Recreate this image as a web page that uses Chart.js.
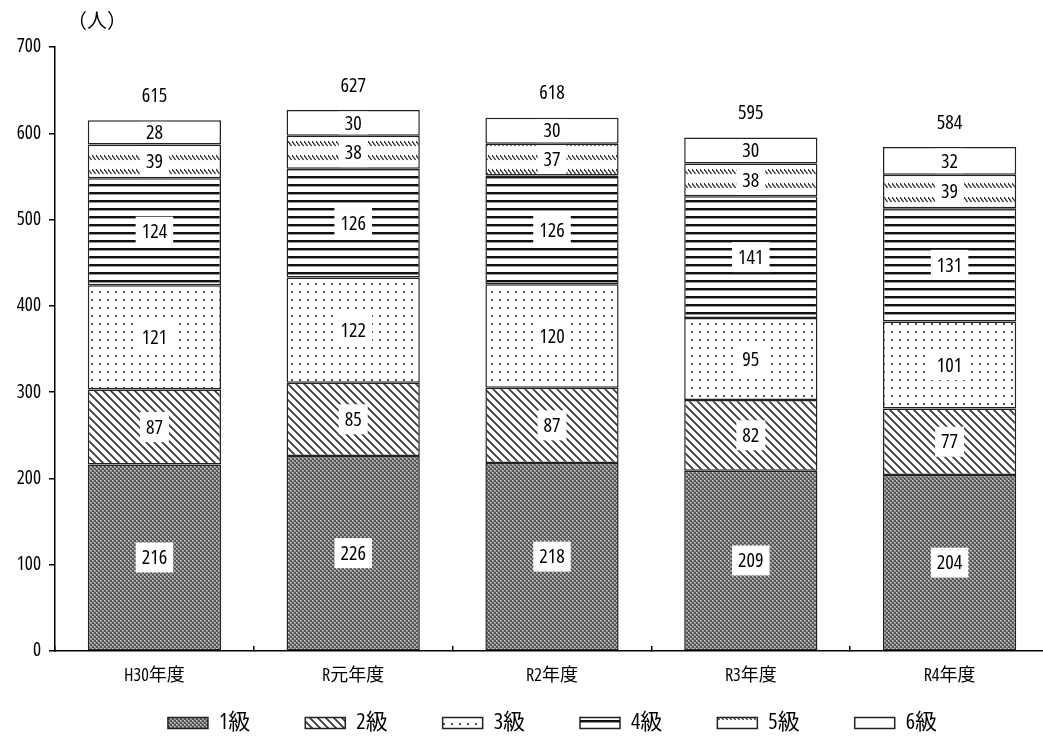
<!DOCTYPE html>
<html><head><meta charset="utf-8">
<script src="https://cdn.jsdelivr.net/npm/chart.js@4"></script>
<style>html,body{margin:0;padding:0;background:#fff;overflow:hidden}
#wrap{width:1049px;height:736px;position:relative}</style></head>
<body><div id="wrap"><canvas id="c"></canvas></div>
<script>
const categories = ['H30年度','R元年度','R2年度','R3年度','R4年度'];
const seriesNames = ['1級','2級','3級','4級','5級','6級'];
const grade1 = [216,226,218,209,204];
const grade2 = [87,85,87,82,77];
const grade3 = [121,122,120,95,101];
const grade4 = [124,126,126,141,131];
const grade5 = [39,38,37,38,39];
const grade6 = [28,30,30,30,32];
const totals = [615,627,618,595,584];
const yTicks = [0,100,200,300,400,500,600,700];
const unitLabel = '（人）';

const fontFam = "'Open Sans','Noto Sans CJK JP',sans-serif";

function makePattern(w,h,draw){const c=document.createElement('canvas');c.width=w;c.height=h;const x=c.getContext('2d');x.fillStyle='#fff';x.fillRect(0,0,w,h);draw(x,w,h);return x.createPattern(c,'repeat');}
const pat1 = makePattern(4,4,x=>{x.fillStyle='#555';x.fillRect(0,0,4,4);x.fillStyle='#959595';x.fillRect(0,0,2,2);x.fillRect(2,2,2,2);x.fillStyle='#cfcfcf';x.fillRect(0,0,1,1);x.fillRect(2,2,1,1);});
const pat2 = makePattern(8,8,x=>{x.strokeStyle='#3a3a3a';x.lineWidth=1.8;x.beginPath();[-8,0,8].forEach(o=>{x.moveTo(o-1,-1);x.lineTo(o+9,9);});x.stroke();});
const pat3 = makePattern(8,8,x=>{x.fillStyle='#555';x.fillRect(3,3,2,2);});
const pat4 = makePattern(4,8,x=>{x.fillStyle='#111';x.fillRect(0,0,4,2);x.fillStyle='#999';x.fillRect(0,2,4,1);});
const pat5 = makePattern(4,14,x=>{x.strokeStyle='#333';x.lineWidth=1.3;x.beginPath();x.moveTo(0,1);x.lineTo(3.5,6);x.stroke();});
const patterns = [pat1,pat2,pat3,pat4,pat5,'#ffffff'];
const seriesData = [grade1,grade2,grade3,grade4,grade5,grade6];

const labelPlugin = {id:'segLabels',
 afterLayout(chart){ const lg=chart.legend; if(lg){ const dx=28; lg.left+=dx; lg.right+=dx; lg.top=657; lg.bottom=736; lg.height=79; } },
 afterDatasetsDraw(chart){
  const ctx=chart.ctx; ctx.save();
  ctx.font = 'condensed 20px '+fontFam; ctx.textAlign='center'; ctx.textBaseline='middle';
  chart.data.datasets.forEach((ds,i)=>{
    const meta=chart.getDatasetMeta(i);
    meta.data.forEach((bar,j)=>{
      const txt=String(ds.data[j]);
      const cy=(bar.y+bar.base)/2;
      const tw=ctx.measureText(txt).width;
      const segH=Math.abs(bar.base-bar.y);
      const bh=Math.min(30,segH-3), bw=tw+12;
      ctx.fillStyle='#fff'; ctx.fillRect(bar.x-bw/2,cy-bh/2,bw,bh);
      ctx.fillStyle='#000'; ctx.fillText(txt,bar.x,cy+1);
    });
  });
  ctx.font = 'condensed 20px '+fontFam;
  const last=chart.getDatasetMeta(chart.data.datasets.length-1);
  last.data.forEach((bar,j)=>{ ctx.fillText(String(totals[j]),bar.x,bar.y-24); });
  ctx.textAlign='left'; ctx.font="20px 'Noto Sans CJK JP'"; ctx.fillText(unitLabel,67,20);
  ctx.restore();
 }};

new Chart(document.getElementById('c'),{
 type:'bar',
 data:{labels:categories,datasets:seriesNames.map((n,i)=>({label:n,data:seriesData[i],backgroundColor:patterns[i],borderColor:'#222',borderWidth:1.5,borderSkipped:false,barPercentage:0.67,categoryPercentage:1}))},
 options:{responsive:true,maintainAspectRatio:false,animation:false,
  layout:{padding:{top:47,left:0,right:0,bottom:0}},
  plugins:{legend:{position:'bottom',maxHeight:40,labels:{boxWidth:40,boxHeight:11,padding:55,font:{size:22,family:fontFam,weight:'condensed'},color:'#000'}},tooltip:{enabled:false}},
  scales:{
   x:{stacked:true,grid:{drawOnChartArea:false,tickLength:-5,color:'#000',lineWidth:1.5},border:{color:'#000',width:1.5},
      ticks:{font:{size:18,family:fontFam,weight:'condensed'},color:'#000',padding:19},afterFit(s){s.height=45;}},
   y:{stacked:true,min:0,max:700,afterBuildTicks(s){s.ticks=yTicks.map(v=>({value:v}));},
      ticks:{font:{size:19,family:fontFam,weight:'condensed'},color:'#000',padding:8},
      grid:{drawOnChartArea:false,tickLength:6,color:'#000',lineWidth:1.5},border:{color:'#000',width:1.5},afterFit(s){s.width=55;}}
  }},
 plugins:[labelPlugin]
});
</script></body></html>
